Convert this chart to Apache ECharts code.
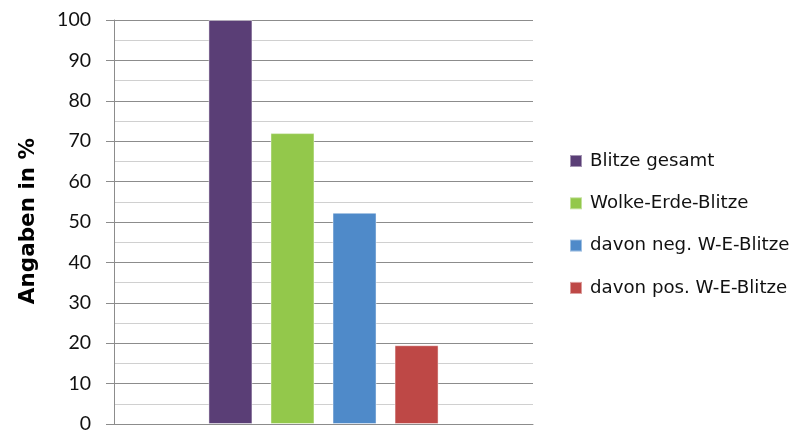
<!DOCTYPE html>
<html>
<head>
<meta charset="utf-8">
<script src="https://cdn.jsdelivr.net/npm/echarts@6/dist/echarts.min.js"></script>
<style>html,body{margin:0;padding:0;background:#fff;}#c{width:798px;height:434px;}</style>
</head>
<body>
<div id="c"></div>
<script>
const categories = [''];
const seriesNames = ['Blitze gesamt', 'Wolke-Erde-Blitze', 'davon neg. W-E-Blitze', 'davon pos. W-E-Blitze'];
const seriesValues = [[100], [72], [52.3], [19.5]];
const seriesColors = ['#5A3E76', '#93C84B', '#4F8AC9', '#BE4846'];
const yTicks = { min: 0, max: 100, interval: 10 };
const yAxisTitle = 'Angaben in %';

const chart = echarts.init(document.getElementById('c'), null, { renderer: 'canvas' });
chart.setOption({
  animation: false,
  backgroundColor: '#fff',
  grid: { left: 114, right: 265, top: 20, bottom: 6, containLabel: false },
  legend: {
    orient: 'vertical',
    left: 569,
    top: 151,
    padding: 0,
    itemWidth: 12,
    itemHeight: 12,
    itemGap: 22.3,
    icon: 'rect',
    textStyle: { fontFamily: '"DejaVu Sans", sans-serif', fontSize: 18.2, color: '#111', padding: [0, 0, 0, 3], lineHeight: 20 },
    data: seriesNames
  },
  xAxis: {
    type: 'category',
    data: categories,
    axisTick: { show: false },
    axisLabel: { show: false },
    axisLine: { lineStyle: { color: '#8c8c8c', width: 1 } }
  },
  yAxis: {
    type: 'value',
    min: yTicks.min,
    max: yTicks.max,
    interval: yTicks.interval,
    axisLine: { show: true, lineStyle: { color: '#8c8c8c', width: 1 } },
    axisTick: { show: true, length: 8, lineStyle: { color: '#8c8c8c' } },
    axisLabel: { fontFamily: 'Lato, sans-serif', fontSize: 19.5, color: '#111', margin: 23 },
    splitLine: { show: true, lineStyle: { color: '#8c8c8c', width: 1 } },
    minorTick: { show: false, splitNumber: 2 },
    minorSplitLine: { show: true, lineStyle: { color: '#d0d0d0', width: 1 } }
  },
  graphic: [{
    type: 'text',
    x: 28,
    y: 221,
    rotation: Math.PI / 2,
    style: { text: yAxisTitle, x: 0, y: 0, align: 'center', verticalAlign: 'middle', fontFamily: '"DejaVu Sans", sans-serif', fontSize: 21.5, fontWeight: 'bold', fill: '#000' }
  }],
  series: seriesNames.map((name, i) => ({
    name: name,
    type: 'bar',
    data: seriesValues[i],
    barWidth: 44,
    barGap: '41%',
    itemStyle: { color: seriesColors[i], borderColor: 'rgba(255,255,255,0.45)', borderWidth: 1 }
  }))
});
</script>
</body>
</html>
